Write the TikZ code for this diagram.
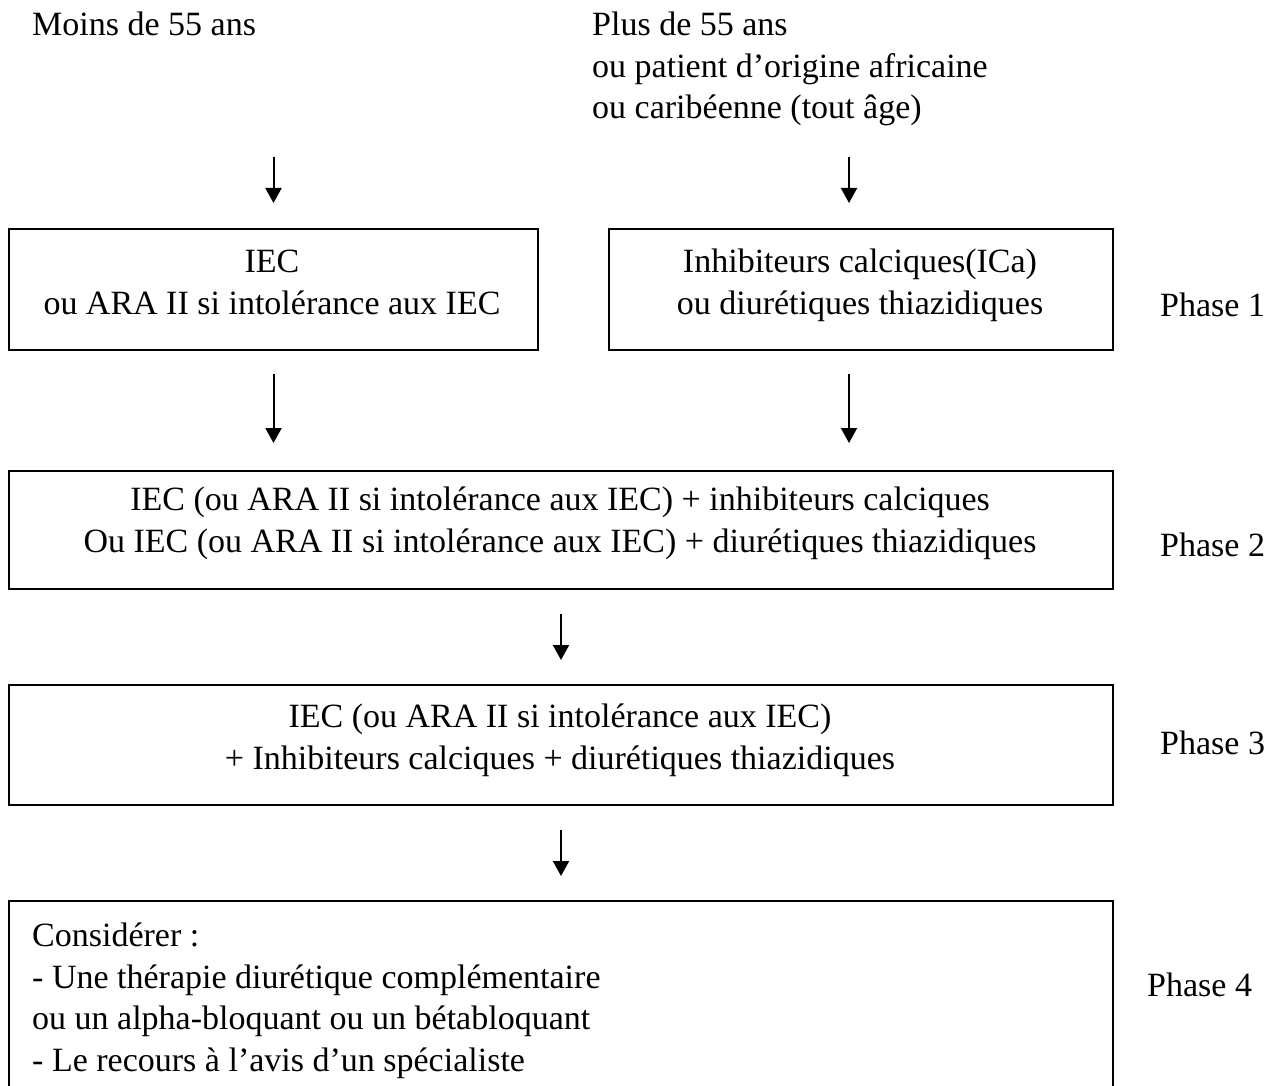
\documentclass[tikz,border=0pt]{standalone}
\usepackage{fontspec}
\setmainfont{Liberation Serif}
\usetikzlibrary{arrows.meta}
\begin{document}
\begin{tikzpicture}[x=1pt,y=-1pt,
  box/.style={draw,line width=2pt,inner sep=0pt,anchor=north west},
  txt/.style={font=\fontsize{34}{41.5}\selectfont,inner sep=0pt,align=center,anchor=base},
  arr/.style={line width=2pt,-{Triangle[length=15pt,width=16pt]}}]
\useasboundingbox (0,0) rectangle (1279,1086);
\clip (0,0) rectangle (1279,1086);
% boxes
\node[box,minimum width=529pt,minimum height=121pt] (b1) at (8,228) {};
\node[box,minimum width=504pt,minimum height=121pt] (b2) at (608,228) {};
\node[box,minimum width=1104pt,minimum height=118pt] (b3) at (8,470) {};
\node[box,minimum width=1104pt,minimum height=120pt] (b4) at (8,684) {};
\node[box,minimum width=1104pt,minimum height=210pt] (b5) at (8,900) {};
% header texts (base anchor = last line baseline)
\node[txt,anchor=base west] (moins) at (32,36) {Moins de 55 ans};
\node[txt,anchor=base west,align=left] (plus) at (592,119) {Plus de 55 ans\\ou patient d’origine africaine\\ou caribéenne (tout âge)};
% box texts
\node[txt] (t1) at (272,314) {IEC\\ou ARA II si intolérance aux IEC};
\node[txt] (t2) at (860,314) {Inhibiteurs calciques(ICa)\\ou diurétiques thiazidiques};
\node[txt] (t3) at (560,552) {IEC (ou ARA II si intolérance aux IEC) + inhibiteurs calciques\\Ou IEC (ou ARA II si intolérance aux IEC) + diurétiques thiazidiques};
\node[txt] (t4) at (560,769) {IEC (ou ARA II si intolérance aux IEC)\\+ Inhibiteurs calciques + diurétiques thiazidiques};
\node[txt,anchor=base west,align=left] (t5) at (32,1071) {Considérer :\\- Une thérapie diurétique complémentaire\\ou un alpha-bloquant ou un bétabloquant\\- Le recours à l’avis d’un spécialiste};
% phase labels
\node[txt,anchor=base west] (p1) at (1160,316) {Phase 1};
\node[txt,anchor=base west] (p2) at (1160,556) {Phase 2};
\node[txt,anchor=base west] (p3) at (1160,754) {Phase 3};
\node[txt,anchor=base west] (p4) at (1147,996) {Phase 4};
% arrows
\draw[arr,shorten >=25pt] ([yshift=71pt]b1.north) -- (b1.north);
\draw[arr,shorten >=25pt] ([xshift=-12pt,yshift=71pt]b2.north) -- ([xshift=-12pt]b2.north);
\draw[arr,shorten <=23pt,shorten >=27pt] (b1.south) -- (b1.south |- b3.north);
\draw[arr,shorten <=23pt,shorten >=27pt] ([xshift=-12pt]b2.south) -- ([xshift=-12pt]b2.south |- b3.north);
\draw[arr,shorten <=24pt,shorten >=24pt] (b3.south) -- (b4.north);
\draw[arr,shorten <=24pt,shorten >=24pt] (b4.south) -- (b5.north);
\end{tikzpicture}
\end{document}
